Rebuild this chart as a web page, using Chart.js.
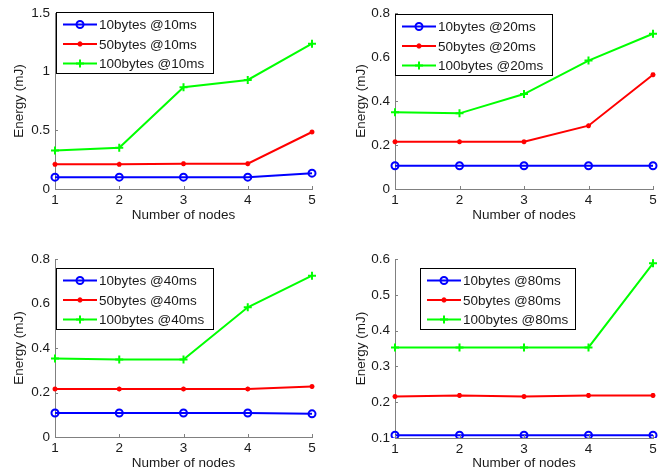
<!DOCTYPE html>
<html>
<head>
<meta charset="utf-8">
<script src="https://cdn.jsdelivr.net/npm/chart.js@4/dist/chart.umd.min.js"></script>
<style>
  html, body { margin: 0; padding: 0; background: #fff; }
  #wrap { position: relative; width: 668px; height: 473px; }
  .panel { position: absolute; }
</style>
</head>
<body>
<div id="wrap">
  <div class="panel" style="left:0;top:0;width:334px;height:236px"><canvas id="c1"></canvas></div>
  <div class="panel" style="left:334px;top:0;width:334px;height:236px"><canvas id="c2"></canvas></div>
  <div class="panel" style="left:0;top:236px;width:334px;height:237px"><canvas id="c3"></canvas></div>
  <div class="panel" style="left:334px;top:236px;width:334px;height:237px"><canvas id="c4"></canvas></div>
</div>
<script>
// data
const nodes = ['1', '2', '3', '4', '5'];

const bytes10_10ms = [0.101, 0.101, 0.101, 0.101, 0.135];
const bytes50_10ms = [0.210, 0.210, 0.216, 0.216, 0.486];
const bytes100_10ms = [0.329, 0.351, 0.868, 0.930, 1.239];

const bytes10_20ms = [0.106, 0.106, 0.106, 0.106, 0.106];
const bytes50_20ms = [0.215, 0.215, 0.215, 0.288, 0.520];
const bytes100_20ms = [0.349, 0.344, 0.432, 0.584, 0.706];

const bytes10_40ms = [0.108, 0.108, 0.108, 0.108, 0.104];
const bytes50_40ms = [0.216, 0.216, 0.216, 0.216, 0.227];
const bytes100_40ms = [0.353, 0.348, 0.348, 0.583, 0.725];

const bytes10_80ms = [0.108, 0.108, 0.108, 0.108, 0.108];
const bytes50_80ms = [0.216, 0.219, 0.216, 0.219, 0.219];
const bytes100_80ms = [0.353, 0.353, 0.353, 0.353, 0.588];

const yTicks10 = [0, 0.5, 1, 1.5];
const yTicks20 = [0, 0.2, 0.4, 0.6, 0.8];
const yTicks40 = [0, 0.2, 0.4, 0.6, 0.8];
const yTicks80 = [0.1, 0.2, 0.3, 0.4, 0.5, 0.6];

const FONT = 'Liberation Sans, Arial, sans-serif';
const TEXT = '#1a1a1a';
const AXIS = '#808080';

function makeDatasets(interval, a, b, c) {
    return [
        { label: `10bytes @${interval}`, data: a, borderColor: '#0000ff', backgroundColor: 'rgba(0,0,0,0)',
          borderWidth: 2, pointStyle: 'circle', pointRadius: 3.5, pointBorderWidth: 2 },
        { label: `50bytes @${interval}`, data: b, borderColor: '#ff0000', backgroundColor: '#ff0000',
          borderWidth: 2, pointStyle: 'star', pointRadius: 2.5, pointBorderWidth: 1.5 },
        { label: `100bytes @${interval}`, data: c, borderColor: '#00ff00', backgroundColor: '#00ff00',
          borderWidth: 2, pointStyle: 'cross', pointRadius: 4, pointBorderWidth: 2 }
    ];
}

// boxed legend inside the plot + inward tick marks, matlab style
const boxLegend = {
    id: 'boxLegend',
    afterDraw(chart, args, opts) {
        const ctx = chart.ctx;
        const x = opts.x, y = opts.y, w = opts.w, h = opts.h;
        ctx.save();

        // inward ticks
        const xs = chart.scales.x, ys = chart.scales.y, area = chart.chartArea;
        ctx.strokeStyle = AXIS;
        ctx.lineWidth = 1;
        ctx.beginPath();
        xs.ticks.forEach((t, i) => {
            const px = Math.round(xs.getPixelForTick(i)) + 0.5;
            ctx.moveTo(px, area.bottom);
            ctx.lineTo(px, area.bottom - 3);
        });
        ys.ticks.forEach((t, i) => {
            const py = Math.round(ys.getPixelForTick(i)) + 0.5;
            ctx.moveTo(area.left, py);
            ctx.lineTo(area.left + 3, py);
        });
        ctx.stroke();

        ctx.fillStyle = '#fff';
        ctx.fillRect(x, y, w, h);
        ctx.strokeStyle = '#000';
        ctx.lineWidth = 1;
        ctx.strokeRect(x + 0.5, y + 0.5, w, h);

        ctx.font = `13.5px ${FONT}`;
        ctx.textBaseline = 'middle';
        ctx.textAlign = 'left';
        chart.data.datasets.forEach((ds, i) => {
            const ry = y + 12.5 + i * 19.5;
            ctx.strokeStyle = ds.borderColor;
            ctx.lineWidth = ds.borderWidth;
            ctx.beginPath();
            ctx.moveTo(x + 7, ry);
            ctx.lineTo(x + 41, ry);
            ctx.stroke();
            ctx.fillStyle = ds.backgroundColor;
            Chart.helpers.drawPoint(ctx, {
                pointStyle: ds.pointStyle, radius: ds.pointRadius,
                borderWidth: ds.pointBorderWidth, rotation: 0
            }, x + 24, ry);
            ctx.fillStyle = TEXT;
            ctx.fillText(ds.label, x + 43, ry + 1);
        });
        ctx.restore();
    }
};

function makeChart(id, datasets, yTicks, geo) {
    const ymin = yTicks[0], ymax = yTicks[yTicks.length - 1];
    return new Chart(document.getElementById(id), {
        type: 'line',
        data: { labels: nodes, datasets: datasets },
        options: {
            responsive: true,
            maintainAspectRatio: false,
            animation: false,
            layout: { padding: { top: geo.padTop, right: geo.padRight, left: 0, bottom: 0 } },
            elements: { line: { tension: 0 } },
            plugins: {
                legend: { display: false },
                tooltip: { enabled: false },
                boxLegend: geo.legend
            },
            scales: {
                x: {
                    type: 'category',
                    offset: false,
                    grid: { display: false, drawTicks: false },
                    border: { display: true, color: AXIS, width: 1 },
                    ticks: { color: TEXT, font: { family: FONT, size: 13.5 }, padding: 3, maxRotation: 0 },
                    title: { display: true, text: 'Number of nodes', color: TEXT,
                             font: { family: FONT, size: 13.5 }, padding: { bottom: geo.xTitlePad, top: 0 } },
                    afterFit: s => { s.height = geo.xHeight; }
                },
                y: {
                    min: ymin,
                    max: ymax,
                    grid: { display: false, drawTicks: false },
                    border: { display: true, color: AXIS, width: 1 },
                    afterBuildTicks: s => { s.ticks = yTicks.map(v => ({ value: v })); },
                    ticks: { color: TEXT, font: { family: FONT, size: 13.5 }, padding: 5,
                             callback: v => String(v) },
                    title: { display: true, text: 'Energy (mJ)', color: TEXT,
                             font: { family: FONT, size: 13.5 }, padding: { top: geo.yTitlePad, bottom: 0 } },
                    afterFit: s => { s.width = geo.yWidth; }
                }
            }
        },
        plugins: [boxLegend]
    });
}

makeChart('c1', makeDatasets('10ms', bytes10_10ms, bytes50_10ms, bytes100_10ms), yTicks10,
    { yWidth: 55, padTop: 11, padRight: 22, xHeight: 47, xTitlePad: 12.5, yTitlePad: 11,
      legend: { x: 56, y: 12, w: 157, h: 61 } });
makeChart('c2', makeDatasets('20ms', bytes10_20ms, bytes50_20ms, bytes100_20ms), yTicks20,
    { yWidth: 61, padTop: 13, padRight: 15, xHeight: 47, xTitlePad: 12.5, yTitlePad: 19,
      legend: { x: 61, y: 14, w: 157, h: 61 } });
makeChart('c3', makeDatasets('40ms', bytes10_40ms, bytes50_40ms, bytes100_40ms), yTicks40,
    { yWidth: 55, padTop: 23, padRight: 22, xHeight: 36, xTitlePad: 2, yTitlePad: 11,
      legend: { x: 56, y: 32, w: 157, h: 61 } });
makeChart('c4', makeDatasets('80ms', bytes10_80ms, bytes50_80ms, bytes100_80ms), yTicks80,
    { yWidth: 61, padTop: 23, padRight: 15, xHeight: 35, xTitlePad: 2, yTitlePad: 19,
      legend: { x: 86, y: 32, w: 155, h: 61 } });
</script>
</body>
</html>
